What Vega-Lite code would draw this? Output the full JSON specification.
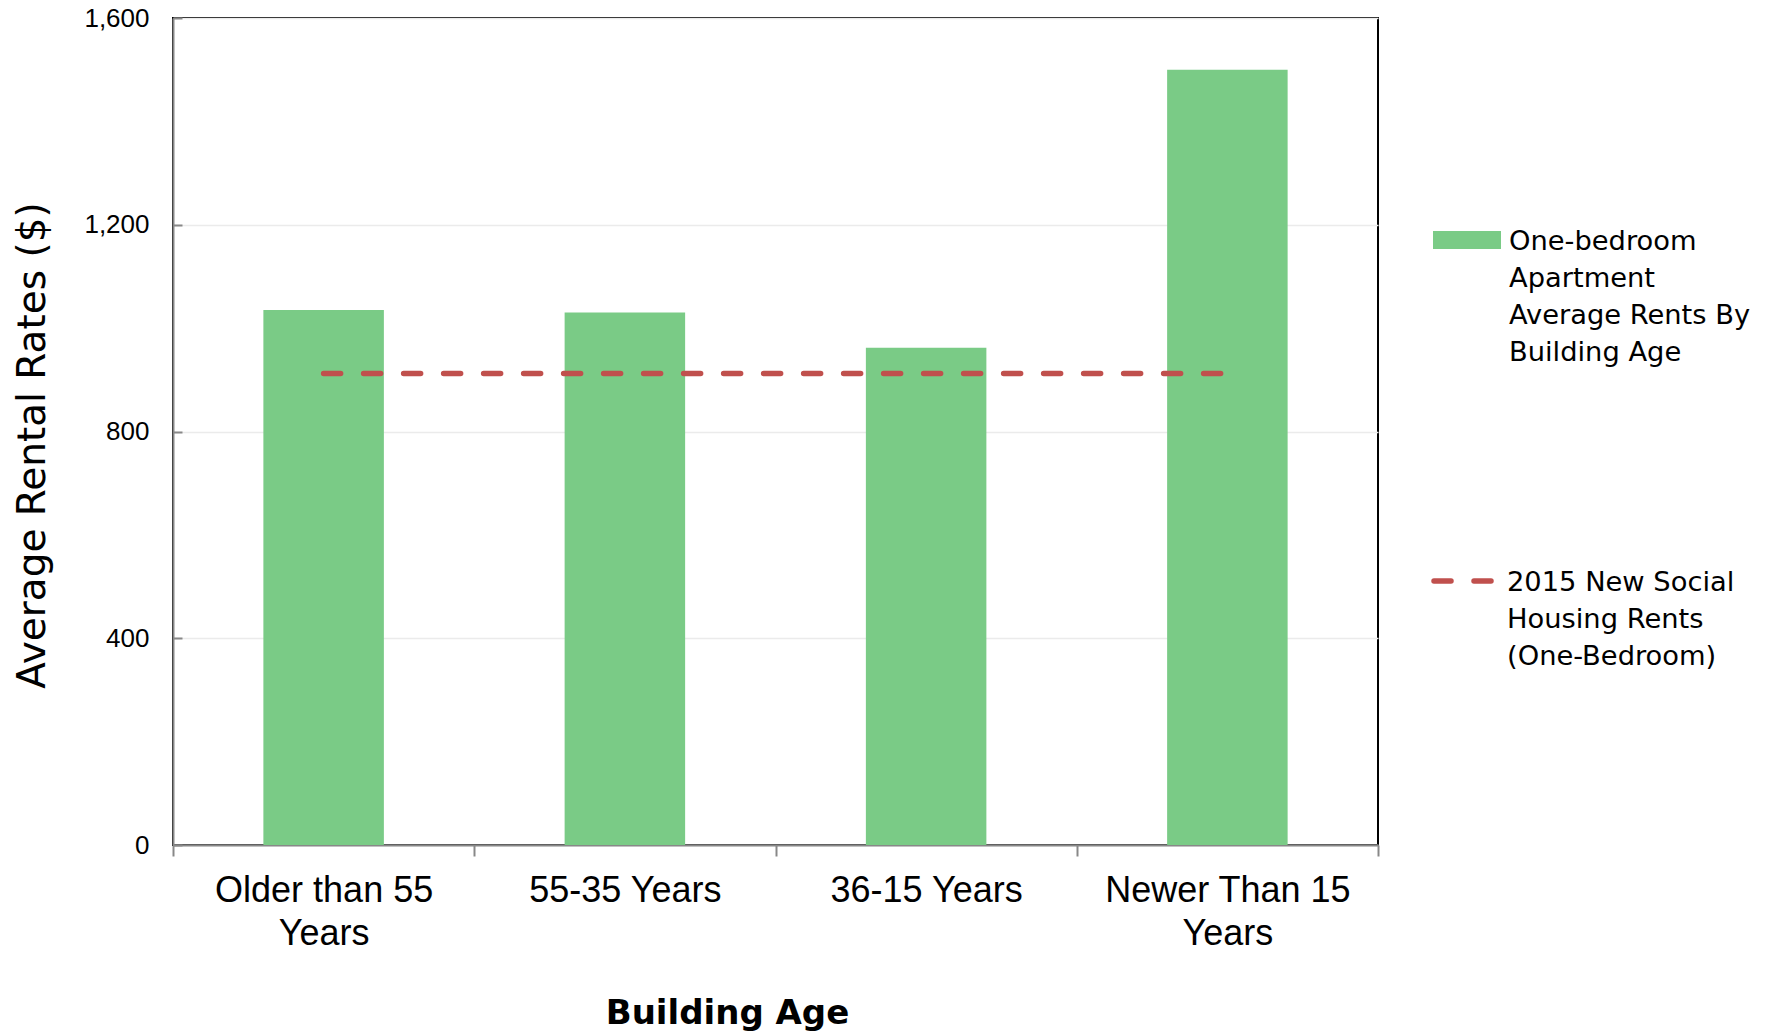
{
  "$schema": "https://vega.github.io/schema/vega-lite/v6.json",
  "width": 1205,
  "height": 827,
  "autosize": {"type": "none"},
  "padding": {"left": 173, "top": 18, "right": 395, "bottom": 190},
  "background": "white",
  "config": {
    "view": {"stroke": "#000000", "strokeWidth": 2},
    "legend": {"padding": 0}
  },
  "data": {
    "values": [
      {"age": "Older than 55\nYears", "rent": 1035, "social": 912, "barSeries": "One-bedroom\nApartment\nAverage Rents By\nBuilding Age", "lineSeries": "2015 New Social\nHousing Rents\n(One-Bedroom)"},
      {"age": "55-35 Years", "rent": 1030, "social": 912, "barSeries": "One-bedroom\nApartment\nAverage Rents By\nBuilding Age", "lineSeries": "2015 New Social\nHousing Rents\n(One-Bedroom)"},
      {"age": "36-15 Years", "rent": 962, "social": 912, "barSeries": "One-bedroom\nApartment\nAverage Rents By\nBuilding Age", "lineSeries": "2015 New Social\nHousing Rents\n(One-Bedroom)"},
      {"age": "Newer Than 15\nYears", "rent": 1500, "social": 912, "barSeries": "One-bedroom\nApartment\nAverage Rents By\nBuilding Age", "lineSeries": "2015 New Social\nHousing Rents\n(One-Bedroom)"}
    ]
  },
  "encoding": {
    "x": {
      "field": "age",
      "type": "nominal",
      "sort": null,
      "scale": {"paddingInner": 0, "paddingOuter": 0},
      "axis": {
        "labelExpr": "split(datum.label, '\\n')",
        "labelAngle": 0,
        "labelFont": "Liberation Sans",
        "labelFontSize": 36,
        "labelLineHeight": 43,
        "labelColor": "#000000",
        "labelPadding": 17,
        "labelLimit": 400,
        "labelOverlap": false,
        "tickBand": "extent",
        "tickSize": 11,
        "tickColor": "#888888",
        "tickWidth": 2,
        "domainColor": "#888888",
        "domainWidth": 2,
        "title": "Building Age",
        "titleFont": "DejaVu Sans",
        "titleFontSize": 34,
        "titleFontWeight": "bold",
        "titleColor": "#000000",
        "titleAlign": "center",
        "titleBaseline": "alphabetic",
        "titleX": 554,
        "titleY": 178
      }
    }
  },
  "layer": [
    {
      "mark": {"type": "bar", "width": {"band": 0.4}},
      "encoding": {
        "y": {
          "field": "rent",
          "type": "quantitative",
          "scale": {"domain": [0, 1600]},
          "axis": {
            "values": [0, 400, 800, 1200, 1600],
            "format": ",d",
            "labelFont": "Liberation Sans",
            "labelFontSize": 26,
            "labelColor": "#000000",
            "labelPadding": 33,
            "tickSize": -9,
            "tickColor": "#888888",
            "tickWidth": 2,
            "domainColor": "#888888",
            "domainWidth": 2,
            "grid": true,
            "gridColor": "#ebebeb",
            "gridWidth": 1.5,
            "title": "Average Rental Rates ($)",
            "titleFont": "DejaVu Sans",
            "titleFontSize": 39,
            "titleFontWeight": "normal",
            "titleColor": "#000000",
            "titleAngle": -90,
            "titleAlign": "center",
            "titleBaseline": "alphabetic",
            "titleX": -129,
            "titleY": 427
          }
        },
        "fill": {
          "field": "barSeries",
          "type": "nominal",
          "scale": {"range": ["#7acb86"]},
          "legend": {
            "orient": "none",
            "legendX": 1260,
            "legendY": 188,
            "title": null,
            "symbolType": "M-1,-0.265H1V0.265H-1Z",
            "symbolSize": 4624,
            "symbolStrokeWidth": 0,
            "labelFont": "DejaVu Sans",
            "labelFontSize": 27.3,
            "labelColor": "#000000",
            "labelLimit": 400,
            "labelOffset": 8,
            "labelBaseline": "alphabetic",
            "labelExpr": "split(datum.label, '\\n')",
            "encode": {"labels": {"update": {"lineHeight": {"value": 37}, "dy": {"value": 10}}}}
          }
        }
      }
    },
    {
      "mark": {"type": "line", "strokeDash": [17, 23], "strokeWidth": 5.5, "strokeCap": "round"},
      "encoding": {
        "y": {
          "field": "social",
          "type": "quantitative",
          "scale": {"domain": [0, 1600]},
          "title": "Average Rental Rates ($)"
        },
        "stroke": {
          "field": "lineSeries",
          "type": "nominal",
          "scale": {"range": ["#c0504d"]},
          "legend": {
            "orient": "none",
            "legendX": 1258,
            "legendY": 531,
            "title": null,
            "symbolType": "stroke",
            "symbolSize": 3364,
            "symbolStrokeWidth": 5.5,
            "symbolDash": [17, 23],
            "labelFont": "DejaVu Sans",
            "labelFontSize": 27.3,
            "labelColor": "#000000",
            "labelLimit": 400,
            "labelOffset": 12,
            "labelBaseline": "alphabetic",
            "labelExpr": "split(datum.label, '\\n')",
            "encode": {
              "symbols": {"update": {"strokeCap": {"value": "round"}}},
              "labels": {"update": {"lineHeight": {"value": 37}, "dy": {"value": 10}}}
            }
          }
        }
      }
    }
  ]
}
